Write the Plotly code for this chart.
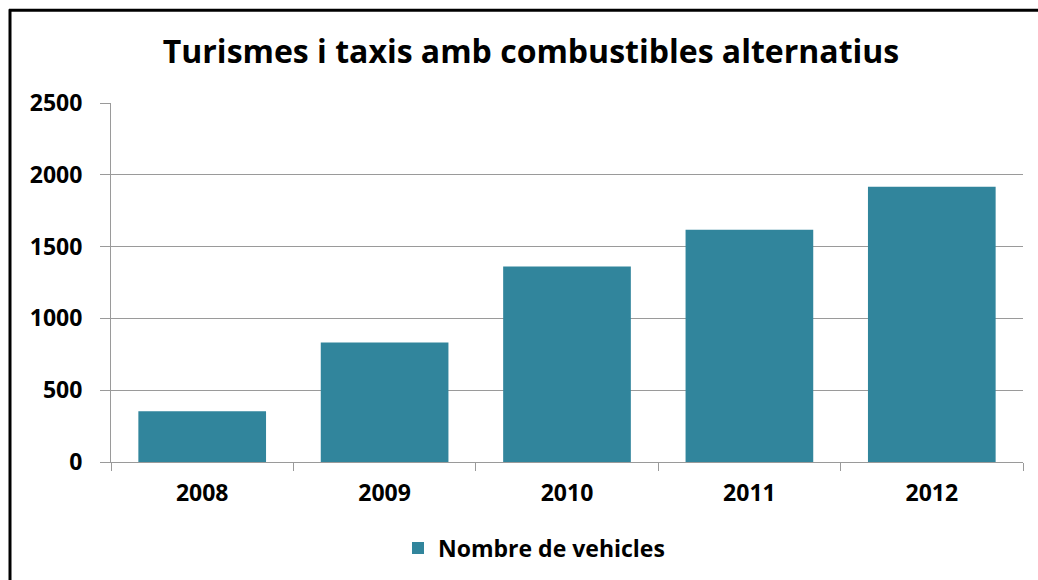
import plotly.graph_objects as go

years = ["2008", "2009", "2010", "2011", "2012"]
vehicles = [354, 833, 1361, 1618, 1917]
series_name = "Nombre de vehicles"
title = "Turismes i taxis amb combustibles alternatius"

W, H = 1038, 580
L, R, T, B = 111, 1023, 103, 463
pw, ph = R - L, B - T

def px(x):
    return (x - L) / pw

def py(y):
    return (B - y) / ph

font = "Open Sans"
axis_col = "#9A9A9A"

fig = go.Figure()
fig.add_trace(go.Bar(
    x=years, y=vehicles, name="<b>" + series_name + "</b>",
    marker=dict(color="#31859C", line=dict(width=0)),
    showlegend=True,
))

fig.update_layout(
    width=W, height=H,
    margin=dict(l=L, r=W - R, t=T, b=H - B, pad=0),
    paper_bgcolor="white", plot_bgcolor="white",
    bargap=0.30,
    title=dict(text="<b>" + title + "</b>", x=px(531), xanchor="center",
               xref="paper", y=1 - 52 / H, yanchor="middle",
               font=dict(family=font, size=32, color="black")),
    font=dict(family=font, color="black"),
    xaxis=dict(
        type="category", tickson="boundaries", ticks="outside", ticklen=8,
        tickcolor=axis_col, showline=True, linecolor=axis_col, linewidth=1,
        tickfont=dict(family=font, size=23, color="black", weight="bold"),
        showgrid=False, ticklabelstandoff=10, automargin=False,
    ),
    yaxis=dict(
        range=[0, 2500], dtick=500, ticks="outside", ticklen=10,
        tickcolor=axis_col, showline=True, linecolor=axis_col, linewidth=1,
        showgrid=True, gridcolor=axis_col, gridwidth=1,
        tickfont=dict(family=font, size=23, color="black", weight="bold"),
        tickformat="d", zeroline=False, ticklabelstandoff=13, automargin=False,
    ),
    legend=dict(orientation="h", x=px(534), xanchor="center", y=py(548),
                yanchor="middle", font=dict(family=font, size=23, color="black"),
                itemsizing="constant"),
    shapes=[
        dict(type="line", xref="paper", yref="paper",
             x0=px(10), x1=px(10), y0=py(650), y1=py(9),
             line=dict(color="black", width=3), layer="above"),
        dict(type="line", xref="paper", yref="paper",
             x0=px(9), x1=px(1060), y0=py(10), y1=py(10),
             line=dict(color="black", width=3), layer="above"),
    ],
)

fig.write_html(
    "out.html",
    config={"displayModeBar": False},
    post_script="document.body.style.margin='0';document.body.style.overflow='hidden';",
)
